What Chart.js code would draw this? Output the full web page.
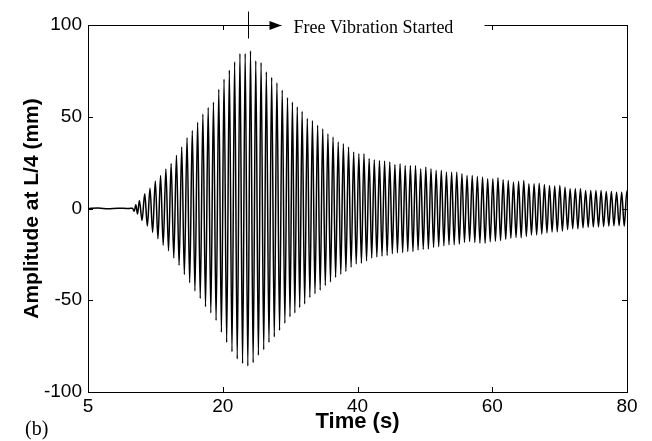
<!DOCTYPE html>
<html>
<head>
<meta charset="utf-8">
<script src="https://cdn.jsdelivr.net/npm/chart.js@4.4.1/dist/chart.umd.min.js"></script>
<style>
  html, body { margin: 0; padding: 0; background: #fff; }
  #wrap { width: 652px; height: 441px; }
</style>
</head>
<body>
<div id="wrap"><canvas id="chart" width="652" height="441"></canvas></div>
<script>
/* Mid-span (L/4) displacement record: forced build-up, then free decay. */

// axes
const xTickValues = [0, 20, 40, 60, 80];
const xTickLabels = ["5", "20", "40", "60", "80"];
const yTickValues = [-100, -50, 0, 50, 100];

// quiet record before the excitation picks up
const restTimes  = [0, 1.5, 3, 4.5, 6, 6.6, 6.85, 7.1, 7.35];
const restValues = [0, 0.3, -0.2, 0.2, 0, 0.2, -1.5, 2, -3];

// crests of the trace (s, mm)
const crestTimes = [
  7.63, 8.42, 9.20, 9.99, 10.77, 11.56, 12.34, 13.13, 13.91, 14.70,
  15.48, 16.27, 17.05, 17.84, 18.62, 19.41, 20.19, 20.98, 21.76, 22.55,
  23.33, 24.12, 24.90, 25.69, 26.47, 27.26, 28.04, 28.83, 29.61, 30.34,
  31.06, 31.78, 32.55, 33.31, 34.08, 34.84, 35.61, 36.37, 37.14, 37.90,
  38.67, 39.43, 40.20, 40.96, 41.73, 42.49, 43.26, 44.02, 44.79, 45.55,
  46.32, 47.08, 47.85, 48.61, 49.38, 50.14, 50.91, 51.67, 52.44, 53.20,
  53.97, 54.73, 55.50, 56.26, 57.03, 57.79, 58.56, 59.32, 60.09, 60.85,
  61.62, 62.38, 63.15, 63.91, 64.68, 65.44, 66.21, 66.97, 67.74, 68.50,
  69.27, 70.03, 70.80, 71.56, 72.33, 73.09, 73.86, 74.62, 75.39, 76.15,
  76.92, 77.68, 78.45, 79.21, 79.98
];
const crestValues = [
  4.4, 8, 11, 15, 18, 21.5, 24.5, 29, 33.5, 38.5,
  42.5, 47, 51.5, 55, 58, 65, 70.5, 75.4, 80, 84.5,
  84.5, 86, 80.5, 79.5, 74.5, 71.5, 68.5, 64.5, 60.5, 58,
  55.5, 53, 49, 48, 45.4, 43.5, 40.8, 39, 36.2, 35.3,
  33.5, 30.8, 29.9, 29.9, 27.2, 26.6, 26.2, 25.9, 25.3, 24,
  24.4, 23.5, 23.5, 23.5, 21.7, 22.6, 21.7, 20.8, 20.8, 19.8,
  19.8, 19.8, 19, 18, 18, 17.5, 17.1, 16.2, 16.2, 16.8,
  15.7, 15.3, 14.4, 14.8, 15.3, 13.5, 13.5, 13.8, 13.1, 12.6,
  12.2, 12.6, 11.6, 10.8, 10.8, 10.8, 9.8, 9.8, 9.8, 9.8,
  9.3, 9.3, 8.9, 8.9, 9.5
];

// troughs of the trace (s, mm)
const troughTimes = [
  8.02, 8.81, 9.59, 10.38, 11.16, 11.95, 12.73, 13.52, 14.30, 15.09,
  15.87, 16.66, 17.44, 18.23, 19.01, 19.80, 20.58, 21.37, 22.15, 22.94,
  23.72, 24.51, 25.29, 26.08, 26.86, 27.65, 28.43, 29.22, 29.98, 30.70,
  31.42, 32.16, 32.93, 33.69, 34.46, 35.22, 35.99, 36.75, 37.52, 38.28,
  39.05, 39.81, 40.58, 41.34, 42.11, 42.87, 43.64, 44.40, 45.17, 45.93,
  46.70, 47.46, 48.23, 48.99, 49.76, 50.52, 51.29, 52.05, 52.82, 53.58,
  54.35, 55.11, 55.88, 56.64, 57.41, 58.17, 58.94, 59.70, 60.47, 61.23,
  62.00, 62.76, 63.53, 64.29, 65.06, 65.82, 66.59, 67.35, 68.12, 68.88,
  69.65, 70.41, 71.18, 71.94, 72.71, 73.47, 74.24, 75.00, 75.77, 76.53,
  77.30, 78.06, 78.83, 79.59, 80.36
];
const troughValues = [
  -6.5, -9.5, -13, -16.5, -20, -23, -27, -31, -36, -40.5,
  -45, -49, -53.5, -57, -61, -67.5, -73, -78, -82, -84.5,
  -85.8, -84, -80, -77, -73, -70, -66.5, -62.5, -59, -57,
  -54, -52, -48.5, -46.5, -44.5, -42, -40, -37.5, -35.8, -34.4,
  -32, -30.3, -29.9, -28.5, -27, -26.4, -26, -25.6, -24.6, -24.2,
  -24, -23.5, -23.5, -22.6, -22.2, -22.1, -21.2, -20.8, -20.3, -19.8,
  -19.8, -19.4, -18.5, -18, -18.5, -18.8, -19, -18.2, -17.8, -17.5,
  -16.8, -16.2, -15.8, -16, -15.2, -14.5, -14.4, -14, -13.3, -12.8,
  -12.7, -12.3, -11.5, -11, -11, -10.5, -10.2, -10.1, -10, -9.8,
  -9.6, -9.4, -9.3, -9.6, -9
];

const freeVibrationStart = 23.8; // s, where the shaker was switched off

const FONT = "'Liberation Sans', Arial, sans-serif";
const SERIF = "'Liberation Serif', 'Times New Roman', serif";

const points = [];
restTimes.forEach((t, i) => points.push({ x: t, y: restValues[i] }));
crestTimes.forEach((t, i) => points.push({ x: t, y: crestValues[i] }));
troughTimes.forEach((t, i) => points.push({ x: t, y: troughValues[i] }));
points.sort((a, b) => a.x - b.x);

// MATLAB-ish box with inward ticks, plus the free-vibration marker
const boxAndNote = {
  id: "boxAndNote",
  afterDatasetsDraw(chart) {
    const { ctx, chartArea: a, scales: { x, y } } = chart;
    const tick = 5;
    ctx.save();
    ctx.strokeStyle = "#000";
    ctx.lineWidth = 1;
    ctx.beginPath();
    xTickValues.forEach((v) => {
      const px = Math.round(x.getPixelForValue(v)) + 0.5;
      ctx.moveTo(px, a.bottom); ctx.lineTo(px, a.bottom - tick);
      ctx.moveTo(px, a.top); ctx.lineTo(px, a.top + tick);
    });
    yTickValues.forEach((v) => {
      const py = Math.round(y.getPixelForValue(v)) + 0.5;
      ctx.moveTo(a.left, py); ctx.lineTo(a.left + tick, py);
      ctx.moveTo(a.right, py); ctx.lineTo(a.right - tick, py);
    });
    ctx.stroke();
    ctx.strokeRect(Math.round(a.left) + 0.5, Math.round(a.top) + 0.5,
      Math.round(a.right - a.left), Math.round(a.bottom - a.top));

    // marker + arrow along the top edge
    const mx = Math.round(x.getPixelForValue(freeVibrationStart)) + 0.5;
    const ty = Math.round(a.top) + 0.5;
    ctx.fillStyle = "#fff";
    ctx.fillRect(mx + 33, ty - 12, 203, 24);
    ctx.beginPath();
    ctx.moveTo(mx, ty - 14); ctx.lineTo(mx, ty + 13);
    ctx.moveTo(mx, ty); ctx.lineTo(mx + 26, ty);
    ctx.stroke();
    ctx.fillStyle = "#000";
    ctx.beginPath();
    ctx.moveTo(mx + 33, ty);
    ctx.lineTo(mx + 21, ty - 4.5);
    ctx.lineTo(mx + 21, ty + 4.5);
    ctx.closePath();
    ctx.fill();
    ctx.font = "18px " + SERIF;
    ctx.textBaseline = "alphabetic";
    ctx.textAlign = "left";
    ctx.fillText("Free Vibration Started", mx + 45, ty + 7);

    ctx.font = "20px " + SERIF;
    ctx.fillText("(b)", 25, 435);
    ctx.restore();
  }
};

new Chart(document.getElementById("chart"), {
  type: "line",
  data: {
    datasets: [{
      data: points,
      borderColor: "#000",
      borderWidth: 1.5,
      pointRadius: 0,
      fill: false,
      cubicInterpolationMode: "monotone",
    }],
  },
  options: {
    responsive: false,
    animation: false,
    events: [],
    layout: { padding: { top: 25, right: 25, left: 0, bottom: 0 } },
    plugins: { legend: { display: false }, tooltip: { enabled: false } },
    scales: {
      x: {
        type: "linear",
        min: 0,
        max: 80,
        afterBuildTicks: (s) => { s.ticks = xTickValues.map((v) => ({ value: v })); },
        afterFit: (s) => { s.height = 49; },
        grid: { display: false, drawTicks: false },
        border: { display: false },
        ticks: {
          padding: 3, color: "#000", autoSkip: false, maxRotation: 0,
          font: { family: FONT, size: 19 },
          callback: (v, i) => xTickLabels[i],
        },
        title: {
          display: true, text: "Time (s)", color: "#000",
          font: { family: FONT, size: 22, weight: "bold" },
          padding: { top: 0, bottom: 6 },
        },
      },
      y: {
        min: -100,
        max: 100,
        afterBuildTicks: (s) => { s.ticks = yTickValues.map((v) => ({ value: v })); },
        afterFit: (s) => { s.width = 88; },
        grid: { display: false, drawTicks: false },
        border: { display: false },
        ticks: {
          padding: 6, color: "#000", autoSkip: false,
          font: { family: FONT, size: 19 },
        },
        title: {
          display: true, text: "Amplitude at L/4 (mm)", color: "#000",
          font: { family: FONT, size: 21, weight: "bold" },
          padding: { top: 20, bottom: 0 },
        },
      },
    },
  },
  plugins: [boxAndNote],
});
</script>
</body>
</html>
